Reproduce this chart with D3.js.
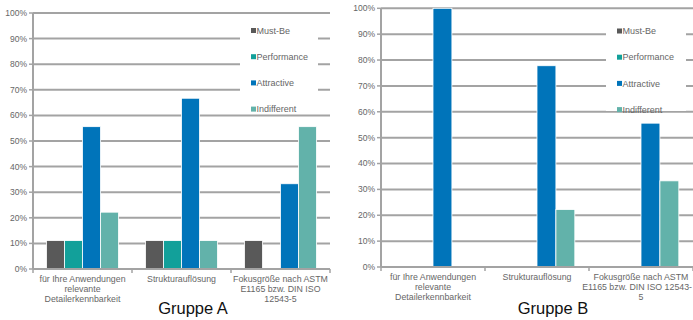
<!DOCTYPE html>
<html><head><meta charset="utf-8">
<script src="https://cdn.jsdelivr.net/npm/d3@7"></script>
<style>body{margin:0;background:#fff}svg{display:block}text{font-family:"Liberation Sans",Arial,sans-serif}</style>
</head><body>
<svg id="c" width="693" height="320"></svg>
<script>
const series = ["Must-Be", "Performance", "Attractive", "Indifferent"];
const colors = ["#595959", "#12a09a", "#0074ba", "#62b2aa"];
const yTicks = [0, 0.1, 0.2, 0.3, 0.4, 0.5, 0.6, 0.7, 0.8, 0.9, 1.0];
const categories = ["c1", "c2", "c3"];
const labelsA = [["für Ihre Anwendungen", "relevante", "Detailerkennbarkeit"], ["Strukturauflösung"], ["Fokusgröße nach ASTM", "E1165 bzw. DIN ISO", "12543-5"]];
const labelsB = [["für Ihre Anwendungen", "relevante", "Detailerkennbarkeit"], ["Strukturauflösung"], ["Fokusgröße nach ASTM", "E1165 bzw. DIN ISO 12543-", "5"]];
// values per category: [Must-Be, Performance, Attractive, Indifferent]
const valuesA = [[0.111, 0.111, 0.556, 0.222], [0.111, 0.111, 0.667, 0.111], [0.111, 0, 0.333, 0.556]];
const valuesB = [[0, 0, 1.0, 0], [0, 0, 0.778, 0.222], [0, 0, 0.556, 0.333]];

const svg = d3.select("#c");
const W = 693;

function chart(o) {
  const g = svg.append("g");
  const x = d3.scaleBand().domain(categories).range([o.x0, o.x1]);
  const xs = d3.scaleBand().domain(series).range([0, x.bandwidth()]).paddingOuter(0.75).paddingInner(0);
  const y = d3.scaleLinear().domain([0, 1]).range([o.y0, o.y1]);
  g.selectAll("line.grid").data(yTicks.filter(d => d > 0)).join("line")
    .attr("x1", o.x0).attr("x2", o.gx1).attr("y1", d => y(d)).attr("y2", d => y(d))
    .attr("stroke", "#a3a3a3").attr("stroke-width", 2);
  g.selectAll("text.yt").data(yTicks).join("text")
    .attr("x", o.x0 - 6).attr("y", d => y(d)).attr("dy", "0.35em").attr("text-anchor", "end")
    .attr("font-size", 8.5).attr("fill", "#666").text(d => d3.format(".0%")(d));
  g.append("rect").attr("x", o.lx - 11).attr("y", o.ly - 12).attr("width", o.lw).attr("height", 92).attr("fill", "#fff");
  categories.forEach((c, i) => {
    g.selectAll(null).data(o.values[i].map((v, j) => ({ s: series[j], v, j }))).join("rect")
      .attr("x", d => x(c) + xs(d.s)).attr("width", xs.bandwidth())
      .attr("y", d => y(d.v)).attr("height", d => y(0) - y(d.v))
      .attr("fill", d => colors[d.j]).attr("stroke", "#fff").attr("stroke-width", 0.8)
      .style("display", d => d.v > 0 ? null : "none");
  });
  g.append("line").attr("x1", o.x0).attr("x2", o.x0).attr("y1", y(1)).attr("y2", y(0)).attr("stroke", "#a3a3a3").attr("stroke-width", 2);
  yTicks.forEach(t => g.append("line").attr("x1", o.x0 - 4).attr("x2", o.x0).attr("y1", y(t)).attr("y2", y(t)).attr("stroke", "#a3a3a3").attr("stroke-width", 1.5));
  g.append("line").attr("x1", o.x0).attr("x2", o.gx1).attr("y1", y(0)).attr("y2", y(0)).attr("stroke", "#a3a3a3").attr("stroke-width", 2);
  const bounds = categories.map(c => x(c)).concat([o.x1]);
  g.selectAll("line.xt").data(bounds).join("line")
    .attr("x1", d => d).attr("x2", d => d).attr("y1", y(0)).attr("y2", y(0) + 4).attr("stroke", "#a3a3a3").attr("stroke-width", 1.5);
  categories.forEach((c, i) => {
    o.labels[i].forEach((l, k) => {
      const cx = x(c) + x.bandwidth() / 2;
      const t = g.append("text").attr("text-anchor", "middle").attr("font-size", 8.8).attr("fill", "#666")
        .attr("x", cx).attr("y", o.ly0 + k * 10).text(l);
      const w = t.node().getComputedTextLength();
      if (cx + w / 2 > W - 1) t.attr("x", W - 1 - w / 2);
    });
  });
  series.forEach((s, j) => {
    g.append("rect").attr("x", o.lx).attr("y", o.ly + j * 26.2 - 2.5).attr("width", 5).attr("height", 5).attr("fill", colors[j]);
    g.append("text").attr("x", o.lx + 5.5).attr("y", o.ly + j * 26.2).attr("dy", "0.35em").attr("font-size", 9).attr("fill", "#666").text(s);
  });
  g.append("text").attr("x", o.tx).attr("y", 314).attr("text-anchor", "middle").attr("font-size", 16.5).attr("fill", "#111").text(o.title);
}

chart({ x0: 33, x1: 330, gx1: 330, y0: 269, y1: 13, values: valuesA, labels: labelsA, ly0: 282, lx: 251, ly: 30.5, lw: 78, tx: 193, title: "Gruppe A" });
chart({ x0: 381, x1: 693, gx1: 693, y0: 267, y1: 8.3, values: valuesB, labels: labelsB, ly0: 280, lx: 617, ly: 31, lw: 80, tx: 553, title: "Gruppe B" });
</script>
</body></html>
